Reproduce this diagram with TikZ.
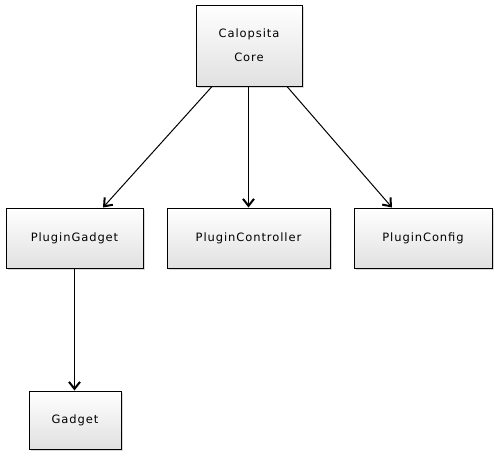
\documentclass[tikz,border=0pt]{standalone}
\usepackage{fontspec}
\setmainfont{DejaVu Sans}[LetterSpace=8]
\usetikzlibrary{arrows.meta,shadows}
\begin{document}
\begin{tikzpicture}[x=1pt,y=-1pt,
  box/.style={draw=black, line width=1pt, rectangle, inner sep=0pt,
    top color=white, bottom color=black!12, shading angle=0,
    drop shadow={shadow xshift=2pt, shadow yshift=-2pt, fill=black!25, opacity=0.6},
    font=\fontsize{11.5}{13}\selectfont},
  conn/.style={line width=1pt, -{Straight Barb[length=7pt,width=11pt,line width=2pt]}}]
\useasboundingbox (0,0) rectangle (496,456);
\node[box, minimum width=106pt, minimum height=81pt, align=center] (core) at (249,45.5) {Calopsita\\[11pt]Core};
\node[box, minimum width=137pt, minimum height=60pt] (pg) at (74.5,238) {PluginGadget};
\node[box, minimum width=163pt, minimum height=60pt] (pc) at (248.5,238) {PluginController};
\node[box, minimum width=138pt, minimum height=60pt] (pf) at (423,238) {PluginConfig};
\node[box, minimum width=92pt, minimum height=58pt] (g) at (75,420) {Gadget};
\draw[conn] ([xshift=-37pt]core.south) -- ([xshift=28.5pt]pg.north);
\draw[conn] (core.south -| pc.north) -- (pc.north);
\draw[conn] ([xshift=38pt]core.south) -- ([xshift=-31pt]pf.north);
\draw[conn] (pg.south) -- (pg.south |- g.north);
\end{tikzpicture}
\end{document}
